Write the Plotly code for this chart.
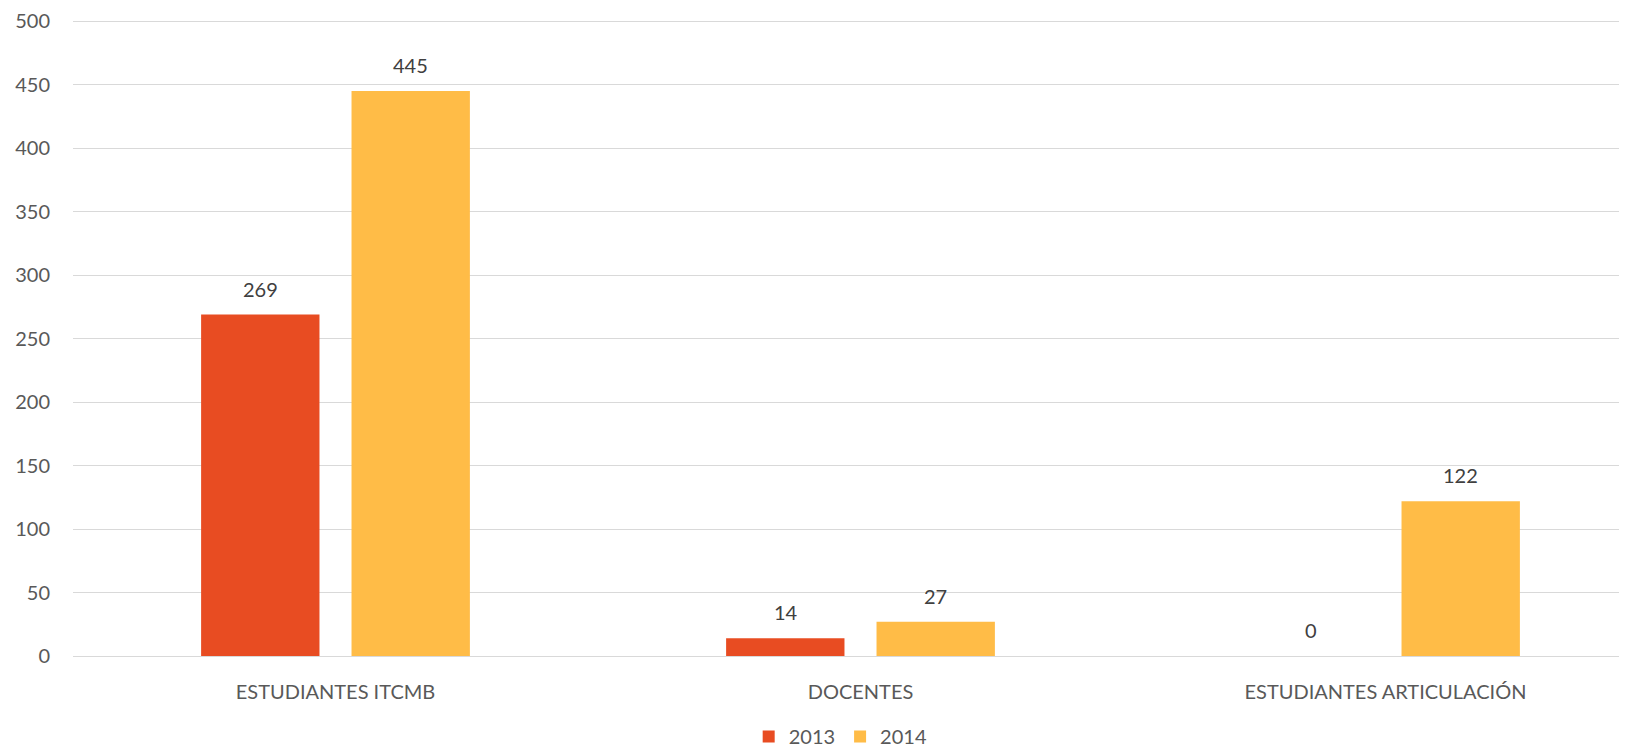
import plotly.graph_objects as go

categories = ["ESTUDIANTES ITCMB", "DOCENTES", "ESTUDIANTES ARTICULACIÓN"]
series_names = ["2013", "2014"]
values_2013 = [269, 14, 0]
values_2014 = [445, 27, 122]
y_ticks = [0, 50, 100, 150, 200, 250, 300, 350, 400, 450, 500]

colors = {"2013": "#E84C22", "2014": "#FFBC47"}
font_family = "Lato, 'Open Sans', sans-serif"
label_shift = {"2013": -75, "2014": 75}

fig = go.Figure()
for name, vals in zip(series_names, [values_2013, values_2014]):
    fig.add_trace(go.Bar(
        x=categories, y=vals, name=name,
        marker=dict(color=colors[name], line=dict(width=0)),
    ))
    for cat, v in zip(categories, vals):
        fig.add_annotation(
            x=cat, y=v, text=str(v), showarrow=False,
            xshift=label_shift[name], yshift=26, yanchor="middle",
            font=dict(size=20, color="#404040", family=font_family),
        )

# page body adds an 8px offset, so the figure is sized to the remaining area
fig.update_layout(
    width=1619, height=745,
    margin=dict(l=65, r=0, t=12, b=97),
    paper_bgcolor="white", plot_bgcolor="white",
    barmode="group", bargap=0.427, bargroupgap=0.213,
    font=dict(family=font_family, color="#595959", size=20),
    legend=dict(orientation="h", x=0.494, xanchor="center", yref="container",
                y=0.022, yanchor="middle", itemwidth=30,
                bgcolor="rgba(0,0,0,0)",
                font=dict(size=20, color="#595959"), traceorder="normal"),
    xaxis=dict(range=[-0.5, 2.46], showgrid=False, showline=False, ticks="",
               automargin=False, ticklabelstandoff=22,
               tickfont=dict(size=20, color="#595959")),
    yaxis=dict(range=[0, 501], tickvals=y_ticks, showgrid=True, gridcolor="#D9D9D9",
               gridwidth=1, zeroline=True, zerolinecolor="#D9D9D9", zerolinewidth=1,
               ticks="", automargin=False, ticklabelstandoff=22,
               tickfont=dict(size=20, color="#595959")),
)

fig.write_html("out.html")
